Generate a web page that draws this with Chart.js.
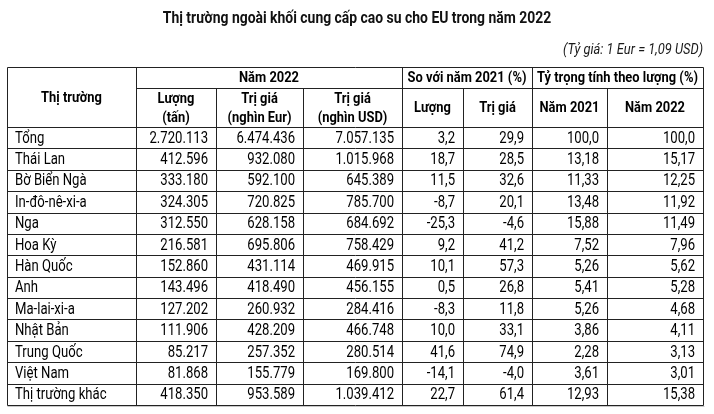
<!DOCTYPE html>
<html>
<head>
<meta charset="utf-8">
<script src="https://cdn.jsdelivr.net/npm/chart.js@4/dist/chart.umd.min.js"></script>
<style>
  html, body { margin: 0; padding: 0; background: #fff; }
  #wrap { width: 714px; height: 414px; }
</style>
</head>
<body>
<div id="wrap"><canvas id="bang"></canvas></div>
<script>
// Du lieu bang: thi truong ngoai khoi cung cap cao su cho EU nam 2022
const thiTruong = ['Tổng','Thái Lan','Bờ Biển Ngà','In-đô-nê-xi-a','Nga','Hoa Kỳ','Hàn Quốc','Anh','Ma-lai-xi-a','Nhật Bản','Trung Quốc','Việt Nam','Thị trường khác'];
const luong2022 = [2720113,412596,333180,324305,312550,216581,152860,143496,127202,111906,85217,81868,418350];
const triGiaEur = [6474436,932080,592100,720825,628158,695806,431114,418490,260932,428209,257352,155779,953589];
const triGiaUsd = [7057135,1015968,645389,785700,684692,758429,469915,456155,284416,466748,280514,169800,1039412];
const soSanhLuong = [3.2,18.7,11.5,-8.7,-25.3,9.2,10.1,0.5,-8.3,10.0,41.6,-14.1,22.7];
const soSanhTriGia = [29.9,28.5,32.6,20.1,-4.6,41.2,57.3,26.8,11.8,33.1,74.9,-4.0,61.4];
const tyTrong2021 = [100.0,13.18,11.33,13.48,15.88,7.52,5.26,5.41,5.26,3.86,2.28,3.61,12.93];
const tyTrong2022 = [100.0,15.17,12.25,11.92,11.49,7.96,5.62,5.28,4.68,4.11,3.13,3.01,15.38];

const tieuDe = 'Thị trường ngoài khối cung cấp cao su cho EU trong năm 2022';
const ghiChu = '(Tỷ giá: 1 Eur = 1,09 USD)';
const nhomCot = [
  {text: 'Năm 2022', from: 1, to: 3},
  {text: 'So với năm 2021 (%)', from: 4, to: 5},
  {text: 'Tỷ trọng tính theo lượng (%)', from: 6, to: 7}
];
const tenCot = [['Lượng','(tấn)'],['Trị giá','(nghìn Eur)'],['Trị giá','(nghìn USD)'],['Lượng'],['Trị giá'],['Năm 2021'],['Năm 2022']];

// bo cuc
const doRongCot = [129, 80, 87, 99, 61, 69, 75, 96];
const mocCot = doRongCot.reduce((a, w) => { a.push(a[a.length - 1] + w); return a; }, [0]);

// dinh dang so kieu Viet Nam
function dinhDang(n, so) {
  let s = Math.abs(n).toFixed(so).split('.');
  s[0] = s[0].replace(/\B(?=(\d{3})+(?!\d))/g, '.');
  return (n < 0 ? '-' : '') + s.join(',');
}
function tyTrong(v) { return dinhDang(v, v === 100 ? 1 : 2); }

const cotSo = [
  luong2022.map(v => dinhDang(v, 0)),
  triGiaEur.map(v => dinhDang(v, 0)),
  triGiaUsd.map(v => dinhDang(v, 0)),
  soSanhLuong.map(v => dinhDang(v, 1)),
  soSanhTriGia.map(v => dinhDang(v, 1)),
  tyTrong2021.map(tyTrong),
  tyTrong2022.map(tyTrong)
];

function veChu(ctx, text, x, y, align, font, sx, color) {
  ctx.save();
  ctx.translate(x, y);
  ctx.scale(sx, 1);
  ctx.font = font;
  ctx.fillStyle = color;
  ctx.textAlign = align;
  ctx.textBaseline = 'middle';
  ctx.fillText(text, 0, 0);
  ctx.restore();
}

const veBang = {
  id: 'veBang',
  afterDraw(chart) {
    const ctx = chart.ctx;
    const x = chart.scales.x, y = chart.scales.y;
    const area = chart.chartArea;
    const hTop = area.top - 60, hMid = area.top - 39;
    const cx = i => x.getPixelForValue(mocCot[i]);
    const p = v => Math.round(v) + 0.5;
    const fBody = '16px Roboto', fHead = 'bold 15px Roboto';

    // tieu de
    veChu(ctx, tieuDe, (area.left + area.right) / 2 + 2, 19, 'center', 'bold 16px Roboto', 0.87, '#111');
    veChu(ctx, ghiChu, area.right, 50, 'right', 'italic 15px Roboto', 0.86, '#1a1a1a');

    // duong ke
    ctx.save();
    ctx.strokeStyle = '#222';
    ctx.lineWidth = 1;
    ctx.beginPath();
    const ngang = (yy, x1, x2) => { ctx.moveTo(x1, p(yy)); ctx.lineTo(x2, p(yy)); };
    const doc = (xx, y1, y2) => { ctx.moveTo(p(xx), y1); ctx.lineTo(p(xx), y2); };
    ngang(hTop, p(area.left), p(area.right));
    ngang(hMid, p(cx(1)), p(area.right));
    for (let i = 0; i <= thiTruong.length; i++) {
      ngang(y.getPixelForValue(i - 0.5), p(area.left), p(area.right));
    }
    for (let i = 0; i < mocCot.length; i++) {
      const batDau = (i === 0 || i === 1 || i === 4 || i === 6 || i === 8) ? hTop : hMid;
      doc(cx(i), p(batDau), p(area.bottom));
    }
    ctx.stroke();
    // bong mo duoi bang
    ctx.strokeStyle = '#c8c8c8';
    ctx.beginPath();
    ngang(area.bottom + 1, p(area.left), p(area.right) + 1);
    ctx.stroke();
    ctx.restore();

    // tieu de cot
    veChu(ctx, 'Thị trường', (cx(0) + cx(1)) / 2, (hTop + area.top) / 2 + 1, 'center', fHead, 0.86, '#000');
    nhomCot.forEach(g => {
      veChu(ctx, g.text, (cx(g.from) + cx(g.to + 1)) / 2, (hTop + hMid) / 2 + 1, 'center', fHead, 0.86, '#000');
    });
    tenCot.forEach((dong, j) => {
      const mx = (cx(j + 1) + cx(j + 2)) / 2;
      const my = (hMid + area.top) / 2 + 1;
      if (dong.length === 1) {
        veChu(ctx, dong[0], mx, my, 'center', fHead, 0.86, '#000');
      } else {
        veChu(ctx, dong[0], mx, my - 9, 'center', fHead, 0.86, '#000');
        veChu(ctx, dong[1], mx, my + 9.5, 'center', fHead, 0.86, '#000');
      }
    });

    // o du lieu
    thiTruong.forEach((ten, i) => {
      const yy = y.getPixelForValue(i) + 1;
      veChu(ctx, ten, cx(0) + 8, yy, 'left', fBody, 0.82, '#000');
      cotSo.forEach((cot, j) => {
        veChu(ctx, cot[i], cx(j + 2) - 8, yy, 'right', fBody, 0.82, '#000');
      });
    });
  }
};

new Chart(document.getElementById('bang').getContext('2d'), {
  type: 'bar',
  data: {
    labels: thiTruong,
    datasets: []
  },
  options: {
    indexAxis: 'y',
    responsive: true,
    maintainAspectRatio: false,
    animation: false,
    layout: { padding: { left: 7, right: 11, top: 127, bottom: 9 } },
    plugins: { legend: { display: false }, tooltip: { enabled: false } },
    scales: {
      x: { type: 'linear', min: 0, max: mocCot[mocCot.length - 1], display: false },
      y: { type: 'category', offset: true, display: false }
    }
  },
  plugins: [veBang]
});
</script>
</body>
</html>
